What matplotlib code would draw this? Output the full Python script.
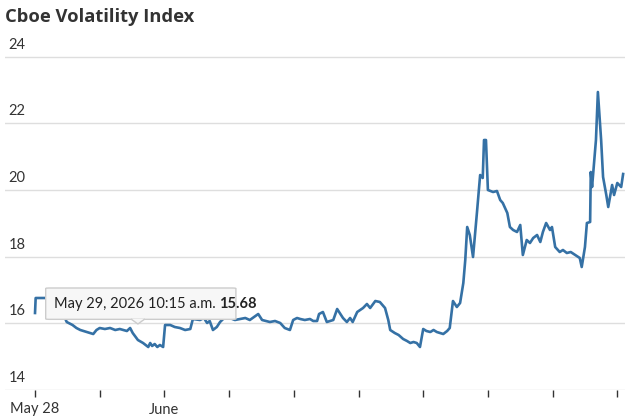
import matplotlib
matplotlib.use("Agg")
import matplotlib.pyplot as plt
from matplotlib.patches import FancyBboxPatch, Polygon

plt.rcParams['font.family'] = ['Lato', 'DejaVu Sans']

# time in trading days since May 28 open, VIX level
days = [0.0, 0.01, 0.155, 0.26, 0.36, 0.42, 0.49, 0.58, 0.64, 0.70, 0.80, 0.90, 0.95, 1.00, 1.08, 1.16,
        1.24, 1.31, 1.42, 1.47,
        1.51, 1.59, 1.67, 1.75, 1.78, 1.81, 1.85, 1.89, 1.93, 1.98, 2.01, 2.09, 2.16, 2.24, 2.32, 2.40,
        2.44, 2.55, 2.61, 2.66, 2.70, 2.75, 2.81, 2.86, 2.94, 3.01, 3.09, 3.17, 3.25, 3.32, 3.45, 3.51,
        3.63, 3.71, 3.79, 3.86, 3.94, 3.99, 4.05, 4.10, 4.17, 4.25, 4.30, 4.36, 4.39, 4.45, 4.51, 4.61,
        4.67, 4.76, 4.82, 4.87, 4.91, 4.98, 5.07, 5.13, 5.18, 5.26, 5.33, 5.41, 5.46, 5.49,
        5.56, 5.62, 5.69, 5.75, 5.80, 5.85, 5.90, 5.95, 6.00, 6.05, 6.11, 6.16, 6.21, 6.31, 6.37, 6.41,
        6.46, 6.52, 6.57,
        6.62, 6.65, 6.68, 6.72, 6.77, 6.83, 6.88, 6.92, 6.94, 6.97, 7.00, 7.08, 7.14, 7.19,
        7.23, 7.30, 7.34, 7.39, 7.45, 7.50, 7.54, 7.60, 7.65, 7.70, 7.76, 7.81, 7.85, 7.90, 7.96,
        7.99, 8.04, 8.11, 8.16, 8.22, 8.28, 8.35, 8.42, 8.45, 8.50, 8.53, 8.58, 8.59, 8.61, 8.67, 8.70,
        8.75, 8.78, 8.83, 8.86, 8.92, 8.95, 9.00, 9.06, 9.09]
vix = [16.31, 16.76, 16.76, 16.82, 16.70, 16.34, 16.04, 15.95, 15.86, 15.80, 15.74, 15.68, 15.80, 15.86,
       15.83, 15.86, 15.80, 15.83, 15.77, 15.86,
       15.71, 15.50, 15.41, 15.29, 15.41, 15.32, 15.38, 15.29, 15.35, 15.29, 15.95, 15.95, 15.89, 15.86,
       15.80, 15.83,
       16.13, 16.10, 16.16, 16.01, 16.07, 15.80, 15.89, 16.04, 16.19, 16.16, 16.10, 16.13, 16.16, 16.10,
       16.28, 16.10,
       16.04, 16.07, 16.01, 15.86, 15.80, 16.10, 16.16, 16.13, 16.10, 16.13, 16.07, 16.07, 16.28, 16.34,
       16.04, 16.10,
       16.43, 16.16, 16.04, 16.16, 16.04, 16.34, 16.46, 16.58, 16.46, 16.67, 16.64, 16.46, 16.10, 15.80,
       15.71, 15.65, 15.53, 15.47, 15.41, 15.44, 15.41, 15.29, 15.83, 15.77, 15.74, 15.80, 15.74, 15.68,
       15.77, 15.86, 16.67, 16.49, 16.61,
       17.21, 17.90, 18.89, 18.65, 17.99, 19.31, 20.45, 20.36, 21.50, 21.50, 20.00, 19.94, 19.97, 19.70,
       19.61, 19.31, 18.89, 18.80, 18.74, 18.95, 18.05, 18.50, 18.41, 18.56, 18.65, 18.44, 18.74, 19.01,
       18.80,
       18.89, 18.29, 18.14, 18.20, 18.11, 18.14, 18.05, 17.96, 17.69, 18.29, 19.01, 19.04, 20.54, 20.09,
       21.50, 22.94,
       21.50, 20.39, 19.85, 19.49, 20.15, 19.85, 20.21, 20.09, 20.48]

tick_pos = list(range(10))
tick_labels = ["May 28", "", "June", "", "", "", "", "", "", ""]
y_ticks = [14, 16, 18, 20, 22, 24]

fig = plt.figure(figsize=(6.31, 4.20), dpi=100)
ax = fig.add_axes([5 / 631, 30 / 420, 620 / 631, 340 / 420])
ax.set_xlim(-0.464, 9.119)
ax.set_ylim(14, 24.2)

for y in y_ticks:
    ax.axhline(y, color="#dedede", lw=1, zorder=1)
    ax.text(0.006, y + 0.15, str(y), transform=ax.get_yaxis_transform(),
            fontsize=10.5, color="#333333", ha="left", va="bottom")

ax.plot(days, vix, color="#3571a5", lw=1.9, zorder=3, solid_joinstyle="round")

for s in ax.spines.values():
    s.set_visible(False)
ax.set_yticks([])
ax.set_xticks(tick_pos)
ax.set_xticklabels(tick_labels, fontsize=10.5, color="#333333")
ax.tick_params(axis="x", length=5, width=1, color="#333333", pad=4)

# tooltip
tip_x, tip_y = 1.59, 15.98
box = FancyBboxPatch((0.165, 16.12), 2.94, 0.94, boxstyle="round,pad=0,rounding_size=0.05",
                     facecolor="#f7f7f7", edgecolor="#cccccc", lw=1, zorder=5,
                     mutation_aspect=0.3)
ax.add_patch(box)
ax.add_patch(Polygon([[tip_x - 0.1, 16.13], [tip_x + 0.1, 16.13], [tip_x, tip_y]],
                     closed=True, facecolor="#f7f7f7", edgecolor="none", zorder=6))
ax.plot([tip_x - 0.1, tip_x, tip_x + 0.1], [16.12, tip_y, 16.12], color="#cccccc", lw=1, zorder=6)
t1 = ax.text(0.29, 16.59, "May 29, 2026 10:15 a.m. ", fontsize=10.5, color="#222222",
             va="center", ha="left", zorder=7)
ax.annotate("15.68", xy=(1, 0), xycoords=t1, va="bottom", ha="left",
            fontsize=10.5, color="#222222", fontweight="bold", zorder=7)

fig.text(5 / 631, 1 - 17 / 420, "Cboe Volatility Index", fontsize=13.2, fontweight="bold",
         color="#333333", ha="left", va="center", family=["Open Sans", "DejaVu Sans"])

fig.savefig("out.png", dpi=100)
